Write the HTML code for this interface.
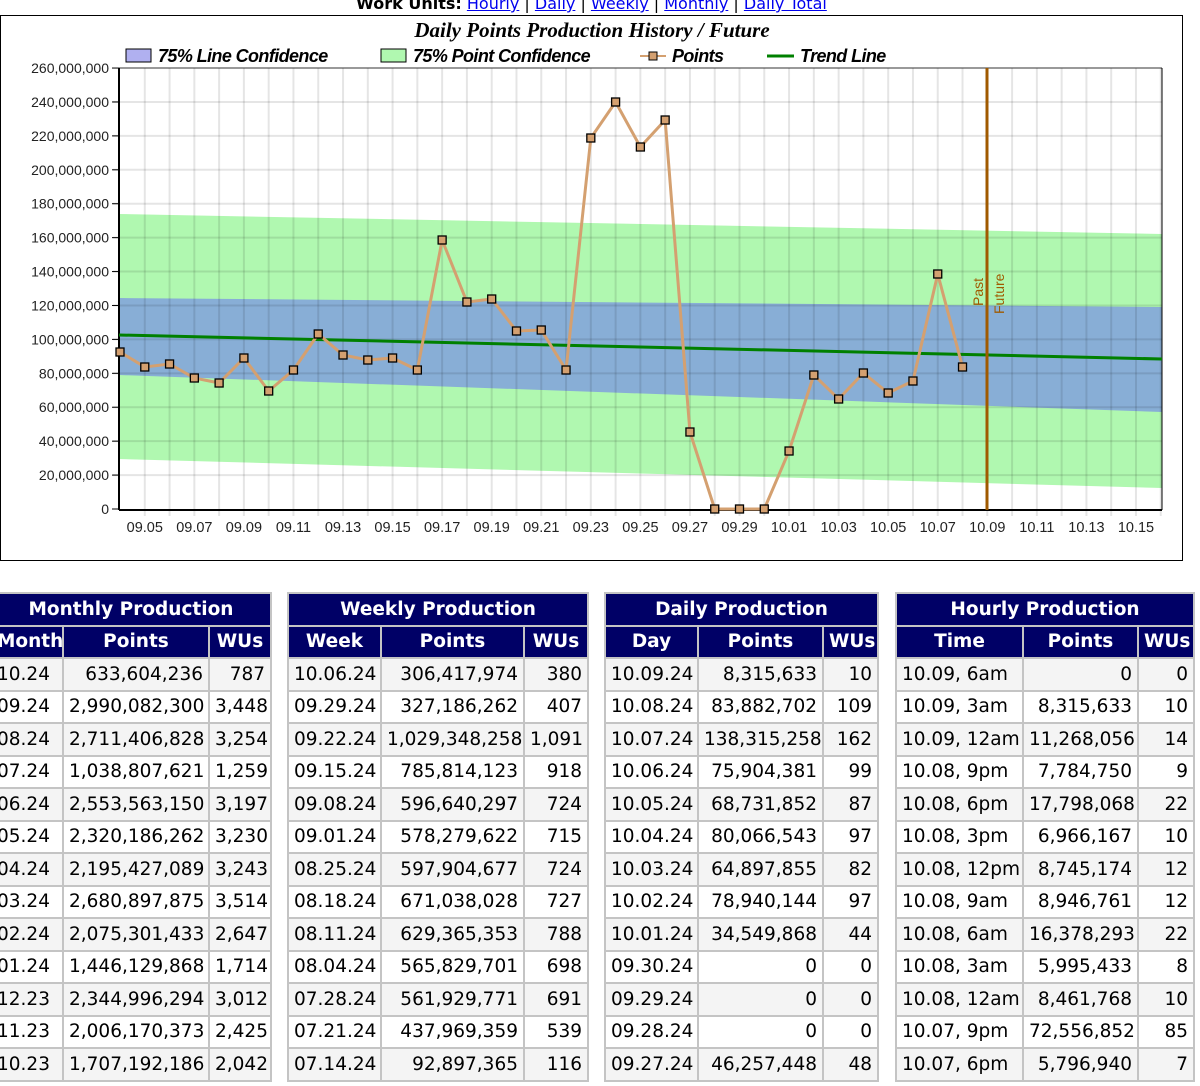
<!DOCTYPE html>
<html><head><meta charset="utf-8"><style>
body{margin:0;width:1200px;height:1086px;overflow:hidden;background:#fff;position:relative;font-family:"DejaVu Sans",Verdana,sans-serif}
.top{position:absolute;top:-6px;left:0;width:1183px;text-align:center;font-size:16px}
.top b{font-weight:bold}
.top a{color:#00e;text-decoration:underline}
.chart{position:absolute;left:0;top:15px;width:1181px;height:544px;border:1px solid #000}
table{position:absolute;top:592px;border-collapse:collapse;table-layout:fixed;font-size:18.5px}
td,th{border:2px solid #c4c4c4;height:30.5px;padding:0 5px;white-space:nowrap;overflow:hidden}
th{background:#000066;color:#fff;font-weight:bold;text-align:center}
td{text-align:right}
td:first-child{text-align:left}
tr:nth-child(odd) td{background:#f4f4f4}
</style></head><body>
<div class="top"><b>Work Units:</b> <a>Hourly</a> | <a>Daily</a> | <a>Weekly</a> | <a>Monthly</a> | <a>Daily Total</a></div>
<div class="chart"></div>
<svg style="position:absolute;left:0;top:0" width="1200" height="570" font-family="Liberation Sans,sans-serif">
<text x="592" y="37" text-anchor="middle" font-family="Liberation Serif,serif" font-style="italic" font-weight="bold" font-size="21">Daily Points Production History / Future</text>
<g font-style="italic" font-weight="bold" font-size="18" letter-spacing="-0.6">
<rect x="126" y="49" width="25" height="13" fill="#b0b0f0" stroke="#000"/><text x="158" y="62">75% Line Confidence</text>
<rect x="381" y="49" width="25" height="13" fill="#b0f8b0" stroke="#000"/><text x="413" y="62">75% Point Confidence</text>
<line x1="640" y1="56" x2="666" y2="56" stroke="#d4a070" stroke-width="2"/><rect x="649" y="52" width="8" height="8" fill="#d4a070" stroke="#000"/><text x="672" y="62">Points</text>
<line x1="767" y1="56" x2="794" y2="56" stroke="#008000" stroke-width="3"/><text x="800" y="62">Trend Line</text>
</g>
<polygon points="119,214 1162,234 1162,488 119,459" fill="#b0f8b0"/>
<polygon points="119,298 1162,307 1162,412 119,375" fill="#88aed6"/>
<g id="grid" stroke="#000" stroke-opacity="0.1" stroke-width="2"></g>
<line x1="119" y1="68" x2="1162" y2="68" stroke="#000" stroke-opacity=".8"/>
<line x1="119" y1="68" x2="119" y2="510" stroke="#000" stroke-width="2"/>
<line x1="119" y1="510" x2="1162" y2="510" stroke="#000" stroke-width="2"/>
<line x1="1162" y1="68" x2="1162" y2="510" stroke="#000"/>
<g id="yl" font-size="14" text-anchor="end" fill="#222"></g>
<g id="xl" font-size="14.5" text-anchor="middle" fill="#222"></g>
<line x1="119" y1="335" x2="1162" y2="359" stroke="#008000" stroke-width="3"/>
<line x1="987" y1="68" x2="987" y2="510" stroke="#a05a00" stroke-width="3"/>
<text transform="translate(983,306) rotate(-90)" font-size="14" fill="#a05a00">Past</text>
<text transform="translate(1004,314) rotate(-90)" font-size="14" fill="#a05a00">Future</text>
<polyline id="pl" fill="none" stroke="#d4a070" stroke-width="3"/>
<g id="pts"></g>
</svg>
<script>
function X(d){return 120+24.78*d}
var g=document.getElementById("grid"),s="";
for(var d=1;d<=42;d++)s+='<line x1="'+X(d)+'" y1="68" x2="'+X(d)+'" y2="516"/>';
for(var k=1;k<13;k++){var y=509-33.92*k;s+='<line x1="113" y1="'+y+'" x2="1162" y2="'+y+'"/>';}
g.innerHTML=s;
var yl="";for(k=0;k<=13;k++){var v=(k*20)+(k?",000,000":"");yl+='<text x="109" y="'+(514-33.92*k)+'">'+v+'</text><line x1="112" x2="119" y1="'+(509-33.92*k)+'" y2="'+(509-33.92*k)+'" stroke="#000"/>';}
document.getElementById("yl").innerHTML=yl;
var xl="";for(d=1;d<=41;d+=2){var m=d<=26?"09":"10",dd=d<=26?d+4:d-26;xl+='<text x="'+X(d)+'" y="532">'+m+"."+(dd<10?"0":"")+dd+'</text>';}
document.getElementById("xl").innerHTML=xl;
var Y=[352,367,364,378,383,358,391,370,334,355,360,358,370,240,302,299,331,330,370,138,102,147,120,432,509,509,509,451,375,399,373,393,381,274,367];
var p="",r="";Y.forEach(function(y,i){p+=X(i)+","+y+" ";r+='<rect x="'+(X(i)-4)+'" y="'+(y-4)+'" width="8" height="8" fill="#d4a070" stroke="#000" stroke-width="1.3"/>';});
document.getElementById("pl").setAttribute("points",p);document.getElementById("pts").innerHTML=r;
</script>

<table style="left:-10px;width:280px"><colgroup><col style="width:72px"><col style="width:146px"><col style="width:62px"></colgroup>
<tr><th colspan="3">Monthly Production</th></tr><tr><th>Month</th><th>Points</th><th>WUs</th></tr>
<tr><td>10.24</td><td>633,604,236</td><td>787</td></tr>
<tr><td>09.24</td><td>2,990,082,300</td><td>3,448</td></tr>
<tr><td>08.24</td><td>2,711,406,828</td><td>3,254</td></tr>
<tr><td>07.24</td><td>1,038,807,621</td><td>1,259</td></tr>
<tr><td>06.24</td><td>2,553,563,150</td><td>3,197</td></tr>
<tr><td>05.24</td><td>2,320,186,262</td><td>3,230</td></tr>
<tr><td>04.24</td><td>2,195,427,089</td><td>3,243</td></tr>
<tr><td>03.24</td><td>2,680,897,875</td><td>3,514</td></tr>
<tr><td>02.24</td><td>2,075,301,433</td><td>2,647</td></tr>
<tr><td>01.24</td><td>1,446,129,868</td><td>1,714</td></tr>
<tr><td>12.23</td><td>2,344,996,294</td><td>3,012</td></tr>
<tr><td>11.23</td><td>2,006,170,373</td><td>2,425</td></tr>
<tr><td>10.23</td><td>1,707,192,186</td><td>2,042</td></tr>
</table>
<table style="left:287px;width:300px"><colgroup><col style="width:93px"><col style="width:143px"><col style="width:64px"></colgroup>
<tr><th colspan="3">Weekly Production</th></tr><tr><th>Week</th><th>Points</th><th>WUs</th></tr>
<tr><td>10.06.24</td><td>306,417,974</td><td>380</td></tr>
<tr><td>09.29.24</td><td>327,186,262</td><td>407</td></tr>
<tr><td>09.22.24</td><td>1,029,348,258</td><td>1,091</td></tr>
<tr><td>09.15.24</td><td>785,814,123</td><td>918</td></tr>
<tr><td>09.08.24</td><td>596,640,297</td><td>724</td></tr>
<tr><td>09.01.24</td><td>578,279,622</td><td>715</td></tr>
<tr><td>08.25.24</td><td>597,904,677</td><td>724</td></tr>
<tr><td>08.18.24</td><td>671,038,028</td><td>727</td></tr>
<tr><td>08.11.24</td><td>629,365,353</td><td>788</td></tr>
<tr><td>08.04.24</td><td>565,829,701</td><td>698</td></tr>
<tr><td>07.28.24</td><td>561,929,771</td><td>691</td></tr>
<tr><td>07.21.24</td><td>437,969,359</td><td>539</td></tr>
<tr><td>07.14.24</td><td>92,897,365</td><td>116</td></tr>
</table>
<table style="left:604px;width:273px"><colgroup><col style="width:93px"><col style="width:125px"><col style="width:55px"></colgroup>
<tr><th colspan="3">Daily Production</th></tr><tr><th>Day</th><th>Points</th><th>WUs</th></tr>
<tr><td>10.09.24</td><td>8,315,633</td><td>10</td></tr>
<tr><td>10.08.24</td><td>83,882,702</td><td>109</td></tr>
<tr><td>10.07.24</td><td>138,315,258</td><td>162</td></tr>
<tr><td>10.06.24</td><td>75,904,381</td><td>99</td></tr>
<tr><td>10.05.24</td><td>68,731,852</td><td>87</td></tr>
<tr><td>10.04.24</td><td>80,066,543</td><td>97</td></tr>
<tr><td>10.03.24</td><td>64,897,855</td><td>82</td></tr>
<tr><td>10.02.24</td><td>78,940,144</td><td>97</td></tr>
<tr><td>10.01.24</td><td>34,549,868</td><td>44</td></tr>
<tr><td>09.30.24</td><td>0</td><td>0</td></tr>
<tr><td>09.29.24</td><td>0</td><td>0</td></tr>
<tr><td>09.28.24</td><td>0</td><td>0</td></tr>
<tr><td>09.27.24</td><td>46,257,448</td><td>48</td></tr>
</table>
<table style="left:895px;width:298px"><colgroup><col style="width:127px"><col style="width:115px"><col style="width:56px"></colgroup>
<tr><th colspan="3">Hourly Production</th></tr><tr><th>Time</th><th>Points</th><th>WUs</th></tr>
<tr><td>10.09, 6am</td><td>0</td><td>0</td></tr>
<tr><td>10.09, 3am</td><td>8,315,633</td><td>10</td></tr>
<tr><td>10.09, 12am</td><td>11,268,056</td><td>14</td></tr>
<tr><td>10.08, 9pm</td><td>7,784,750</td><td>9</td></tr>
<tr><td>10.08, 6pm</td><td>17,798,068</td><td>22</td></tr>
<tr><td>10.08, 3pm</td><td>6,966,167</td><td>10</td></tr>
<tr><td>10.08, 12pm</td><td>8,745,174</td><td>12</td></tr>
<tr><td>10.08, 9am</td><td>8,946,761</td><td>12</td></tr>
<tr><td>10.08, 6am</td><td>16,378,293</td><td>22</td></tr>
<tr><td>10.08, 3am</td><td>5,995,433</td><td>8</td></tr>
<tr><td>10.08, 12am</td><td>8,461,768</td><td>10</td></tr>
<tr><td>10.07, 9pm</td><td>72,556,852</td><td>85</td></tr>
<tr><td>10.07, 6pm</td><td>5,796,940</td><td>7</td></tr>
</table>
</body></html>
